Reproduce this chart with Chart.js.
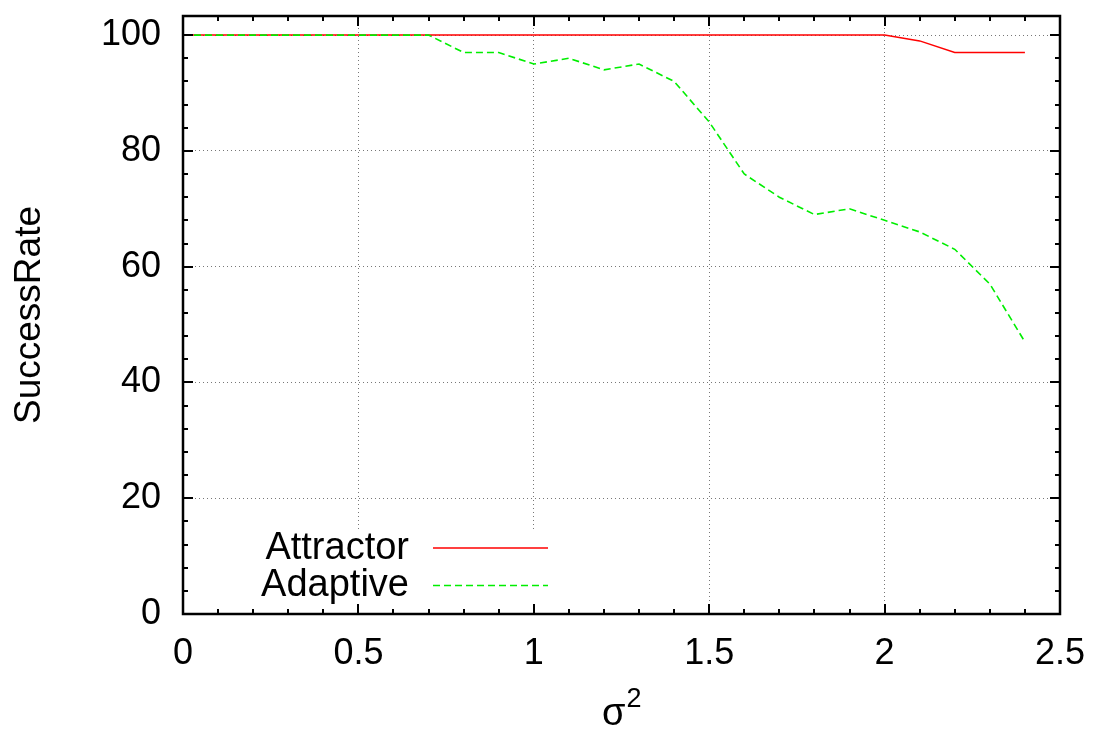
<!DOCTYPE html>
<html>
<head>
<meta charset="utf-8">
<script src="https://cdn.jsdelivr.net/npm/chart.js@4.4.1/dist/chart.umd.min.js"></script>
<style>
  html, body { margin: 0; padding: 0; background: #ffffff; }
  #wrap { width: 1098px; height: 733px; }
</style>
</head>
<body>
<div id="wrap"><canvas id="c" width="1098" height="733"></canvas></div>
<script>
// ---- data ----
const sigma2 = [0, 0.1, 0.2, 0.3, 0.4, 0.5, 0.6, 0.7, 0.8, 0.9, 1.0, 1.1, 1.2, 1.3, 1.4, 1.5, 1.6, 1.7, 1.8, 1.9, 2.0, 2.1, 2.2, 2.3, 2.4];
const attractor = [100, 100, 100, 100, 100, 100, 100, 100, 100, 100, 100, 100, 100, 100, 100, 100, 100, 100, 100, 100, 100, 99, 97, 97, 97];
const adaptive = [100, 100, 100, 100, 100, 100, 100, 100, 97, 97, 95, 96, 94, 95, 92, 85, 76, 72, 69, 70, 68, 66, 63, 57, 47];
const seriesNames = ["Attractor", "Adaptive"];
const xTickValues = [0, 0.5, 1, 1.5, 2, 2.5];
const yTickValues = [0, 20, 40, 60, 80, 100];
const xTitle = "σ";
const xTitleSup = "2";
const yTitle = "SuccessRate";

const FONT = "'Liberation Sans', Arial, Helvetica, sans-serif";
const RED = "#ff0000";
const GREEN = "#00ee00";

const toPoints = (xs, ys) => xs.map((x, i) => ({ x: x, y: ys[i] }));

const decor = {
  id: 'decor',
  beforeDatasetsDraw(chart) {
    const ctx = chart.ctx;
    ctx.save();
    ctx.fillStyle = '#ffffff';
    ctx.fillRect(190, 529, 366, 80);
    ctx.restore();
  },
  afterDatasetsDraw(chart) {
    const ctx = chart.ctx;
    const a = chart.chartArea;
    const xs = chart.scales.x, ys = chart.scales.y;
    ctx.save();
    ctx.strokeStyle = '#000';
    ctx.lineWidth = 2;
    ctx.beginPath();
    for (let i = 0; i <= 25; i++) {
      const v = i / 10;
      const px = Math.round(xs.getPixelForValue(v));
      const len = (i % 5 === 0) ? 10 : 5;
      ctx.moveTo(px, a.bottom); ctx.lineTo(px, a.bottom - len);
      ctx.moveTo(px, a.top); ctx.lineTo(px, a.top + len);
    }
    for (let v = 0; v <= 100; v += 4) {
      const py = Math.round(ys.getPixelForValue(v));
      const len = (v % 20 === 0) ? 10 : 5;
      ctx.moveTo(a.left, py); ctx.lineTo(a.left + len, py);
      ctx.moveTo(a.right, py); ctx.lineTo(a.right - len, py);
    }
    ctx.stroke();
    ctx.lineWidth = 2.5;
    ctx.strokeRect(a.left, a.top, a.right - a.left, a.bottom - a.top);

    // key
    ctx.fillStyle = '#000';
    ctx.font = '38px ' + FONT;
    ctx.textAlign = 'right';
    ctx.textBaseline = 'middle';
    ctx.fillText(seriesNames[0], 409, 549);
    ctx.fillText(seriesNames[1], 409, 586);
    ctx.lineWidth = 1.5;
    ctx.strokeStyle = RED;
    ctx.beginPath(); ctx.moveTo(433, 548); ctx.lineTo(548, 548); ctx.stroke();
    ctx.strokeStyle = GREEN;
    ctx.setLineDash([7, 4]);
    ctx.beginPath(); ctx.moveTo(433, 585.5); ctx.lineTo(548, 585.5); ctx.stroke();
    ctx.setLineDash([]);

    // x-axis title
    ctx.fillStyle = '#000';
    ctx.textAlign = 'left';
    ctx.textBaseline = 'alphabetic';
    ctx.font = '38px ' + FONT;
    const sx = 602;
    ctx.fillText(xTitle, sx, 725);
    const w = ctx.measureText(xTitle).width;
    ctx.font = '27px ' + FONT;
    ctx.fillText(xTitleSup, sx + w + 1, 707);
    ctx.restore();
  }
};

const noPad = s => { s.paddingTop = 0; s.paddingBottom = 0; s.paddingLeft = 0; s.paddingRight = 0; };

new Chart(document.getElementById('c'), {
  type: 'line',
  data: {
    datasets: [
      {
        label: seriesNames[0],
        data: toPoints(sigma2, attractor),
        borderColor: RED,
        borderWidth: 1.5,
        pointRadius: 0,
        fill: false,
        tension: 0,
        order: 1
      },
      {
        label: seriesNames[1],
        data: toPoints(sigma2, adaptive),
        borderColor: GREEN,
        borderWidth: 1.6,
        borderDash: [7, 4],
        pointRadius: 0,
        fill: false,
        tension: 0,
        order: 0
      }
    ]
  },
  options: {
    responsive: false,
    animation: false,
    devicePixelRatio: 1,
    layout: { padding: { top: 16, right: 38, left: 0, bottom: 0 } },
    plugins: { legend: { display: false }, tooltip: { enabled: false } },
    scales: {
      x: {
        type: 'linear',
        min: 0, max: 2.5,
        afterBuildTicks: s => { s.ticks = xTickValues.map(v => ({ value: v })); },
        afterFit: s => { s.height = 119; noPad(s); },
        ticks: {
          color: '#000',
          font: { size: 36, family: FONT },
          padding: 18,
          maxRotation: 0,
          autoSkip: false,
          callback: v => String(v)
        },
        grid: { color: '#777', lineWidth: 1, drawTicks: false },
        border: { display: false, dash: [1, 3] }
      },
      y: {
        type: 'linear',
        min: 0, max: 103.3,
        afterBuildTicks: s => { s.ticks = yTickValues.map(v => ({ value: v })); },
        afterFit: s => { s.width = 183; noPad(s); },
        ticks: {
          color: '#000',
          font: { size: 36, family: FONT },
          padding: 22,
          autoSkip: false,
          callback: v => String(v)
        },
        title: {
          display: true,
          text: yTitle,
          color: '#000',
          font: { size: 37, family: FONT },
          padding: { top: 8, bottom: 0 }
        },
        grid: { color: '#777', lineWidth: 1, drawTicks: false },
        border: { display: false, dash: [1, 3] }
      }
    }
  },
  plugins: [decor]
});
</script>
</body>
</html>
